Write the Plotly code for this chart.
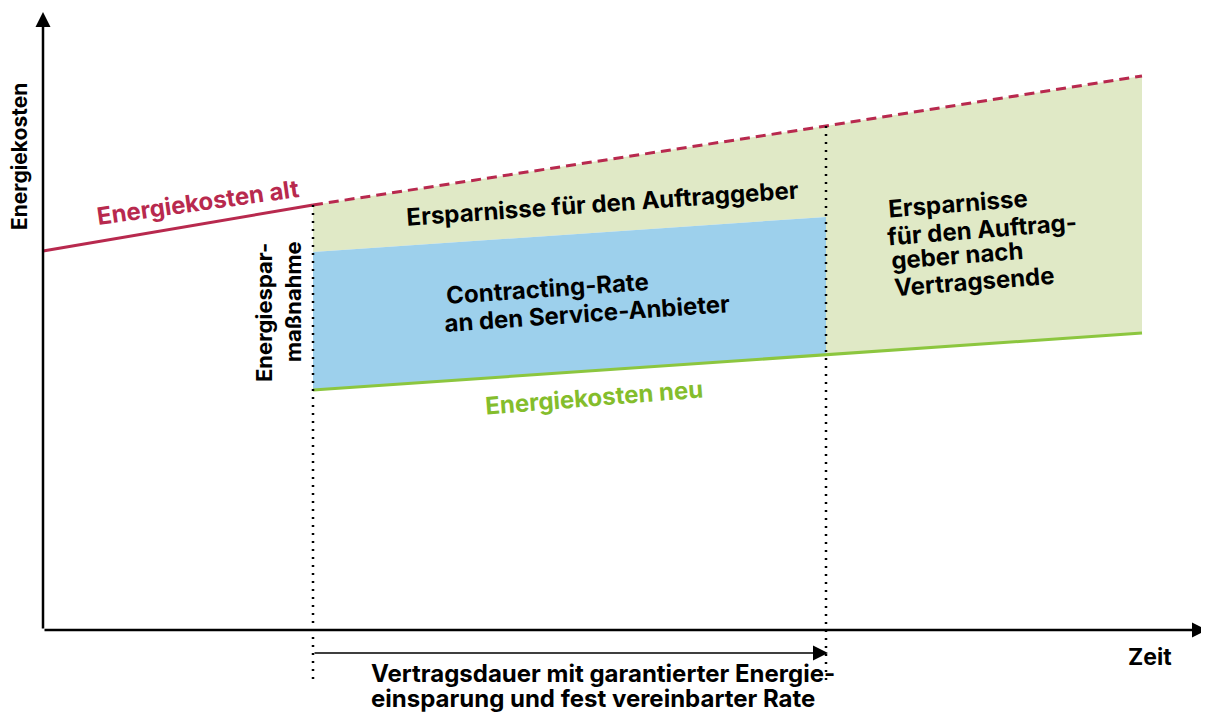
import plotly.graph_objects as go

# --- data (schematic units: time on x, cost on y) ---
t_points = [0, 270, 783, 1099]          # start, measure, contract end, horizon
cost_old = [379, 425, 504, 554]          # Energiekosten alt
cost_new = [None, 240, 275, 297]         # Energiekosten neu (from measure on)
rate_top = [None, 378, 413, None]        # top of contracting rate band
y_axis_top = 618
x_axis_end = 1164
dotted_bottom = -50
duration_arrow_y = -23

CRIMSON = "#b8294e"
GREEN = "#8cc63f"
GREEN_TXT = "#84bd2c"
LIGHT_GREEN = "#e0e9c6"
BLUE = "#9dd0ec"
FONT = "Inter"

fig = go.Figure()

# light green savings polygon
sav_x = [t_points[1], t_points[2], t_points[3], t_points[3], t_points[2], t_points[2], t_points[1]]
sav_y = [cost_old[1], cost_old[2], cost_old[3], cost_new[3], cost_new[2], rate_top[2], rate_top[1]]
fig.add_trace(go.Scatter(x=sav_x, y=sav_y, fill="toself", fillcolor=LIGHT_GREEN,
                         mode="none", hoverinfo="skip", showlegend=False))
# blue contracting rate polygon
rate_x = [t_points[1], t_points[2], t_points[2], t_points[1]]
rate_y = [rate_top[1], rate_top[2], cost_new[2], cost_new[1]]
fig.add_trace(go.Scatter(x=rate_x, y=rate_y, fill="toself", fillcolor=BLUE,
                         mode="none", hoverinfo="skip", showlegend=False))

# old energy cost: solid then dashed
fig.add_trace(go.Scatter(x=t_points[:2], y=cost_old[:2], mode="lines",
                         line=dict(color=CRIMSON, width=3), showlegend=False))
fig.add_trace(go.Scatter(x=t_points[1:], y=cost_old[1:], mode="lines",
                         line=dict(color=CRIMSON, width=3, dash="10px,6px"), showlegend=False))
# new energy cost
fig.add_trace(go.Scatter(x=t_points[1:], y=cost_new[1:], mode="lines",
                         line=dict(color=GREEN, width=3), showlegend=False))

# dotted vertical markers
for i in (1, 2):
    fig.add_trace(go.Scatter(x=[t_points[i], t_points[i]], y=[cost_old[i], dotted_bottom],
                             mode="lines", line=dict(color="black", width=2.5, dash="2px,6px"),
                             showlegend=False))

ann = []
# axes arrows
ann.append(dict(x=0, y=y_axis_top, ax=0, ay=0, xref="x", yref="y", axref="x", ayref="y",
                text="", showarrow=True, arrowhead=2, arrowwidth=2.5, arrowsize=1.2,
                arrowcolor="black", standoff=0))
ann.append(dict(x=x_axis_end, y=0, ax=0, ay=0, xref="x", yref="y", axref="x", ayref="y",
                text="", showarrow=True, arrowhead=2, arrowwidth=2.5, arrowsize=1.2,
                arrowcolor="black", standoff=0))
# contract duration arrow
ann.append(dict(x=t_points[2] + 2, y=duration_arrow_y, ax=t_points[1], ay=duration_arrow_y,
                xref="x", yref="y", axref="x", ayref="y", text="", showarrow=True,
                arrowhead=2, arrowwidth=1.5, arrowsize=2, arrowcolor="black", standoff=0))


def txt(px, py, s, color="black", angle=0, xanchor="center", size=24):
    # px, py: label position in page pixels, converted to data units
    ann.append(dict(x=px - 43, y=630 - py, xref="x", yref="y", text="<b>" + s + "</b>",
                    showarrow=False, textangle=angle, xanchor=xanchor, yanchor="middle",
                    borderpad=0, font=dict(family=FONT, size=size, color=color)))


txt(19, 157, "Energiekosten", angle=-90, size=21)
txt(198, 202, "Energiekosten alt", color=CRIMSON, angle=-8, size=24)
txt(264, 313, "Energiespar-", angle=-90, size=22)
txt(293, 302, "maßnahme", angle=-90, size=22)
txt(602, 203, "Ersparnisse für den Auftraggeber", angle=-4, size=24)
txt(547, 288, "Contracting-Rate", angle=-4, size=24)
txt(587, 313, "an den Service-Anbieter", angle=-4, size=24)
txt(594, 397, "Energiekosten neu", color=GREEN_TXT, angle=-4.5, size=24)
txt(958, 203, "Ersparnisse", angle=-4.5, size=24)
txt(982, 229, "für den Auftrag-", angle=-4.5, size=24)
txt(957, 255, "geber nach", angle=-4.5, size=24)
txt(974, 281, "Vertragsende", angle=-4.5, size=24)
txt(1150, 657, "Zeit", size=23)
txt(370, 673, "Vertragsdauer mit garantierter Energie-", xanchor="left", size=24)
txt(370, 698, "einsparung und fest vereinbarter Rate", xanchor="left", size=24)

# page is offset by the browser's 8px body margin: figure covers page pixels 8..1209 / 8..713
fig.update_layout(
    width=1201, height=705,
    margin=dict(l=0, r=0, t=0, b=0),
    paper_bgcolor="white", plot_bgcolor="white",
    xaxis=dict(range=[-35, 1166], visible=False, fixedrange=True),
    yaxis=dict(range=[-83, 622], visible=False, fixedrange=True),
    annotations=ann,
    showlegend=False,
)

fig.write_html("out.html")
